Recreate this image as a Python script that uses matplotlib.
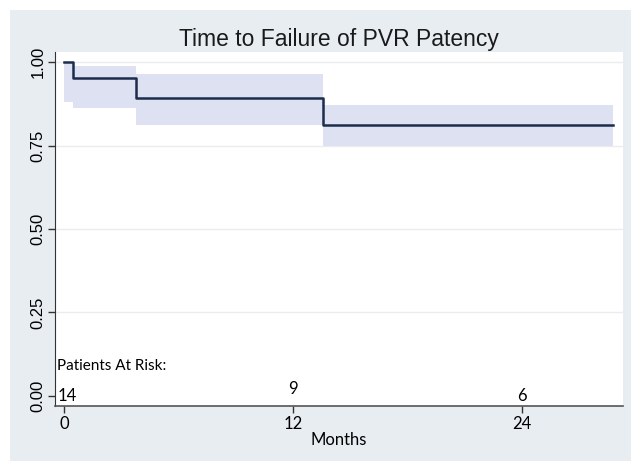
import matplotlib.pyplot as plt
import matplotlib.patches as patches

# KM estimate
times = [0, 0.47, 3.8, 13.6, 28.8]
surv = [1.0, 0.952, 0.893, 0.812, 0.812]
ci_lo = [0.88, 0.862, 0.811, 0.749]
ci_hi = [1.0, 0.988, 0.964, 0.871]

risk_t = [0, 12, 24]
risk_n = ['14', '9', '6']
risk_y = [0.0, 0.02, 0.0]

fig = plt.figure(figsize=(6.31, 4.61), dpi=100)
fig.patch.set_facecolor('white')
bg = patches.Rectangle((10 / 631, 0), 1, 1 - 10 / 461, transform=fig.transFigure,
                       facecolor='#e8edf1', edgecolor='none', zorder=-10)
fig.patches.append(bg)

ax = fig.add_axes([55 / 631, 1 - 406 / 461, 568 / 631, 354 / 461])
ax.set_facecolor('white')

for i in range(len(ci_lo)):
    ax.fill_between([times[i], times[i + 1]], ci_lo[i], ci_hi[i],
                    color='#dde1f1', linewidth=0, zorder=1)

ax.step(times, surv, where='post', color='#1c2c4c', linewidth=1.8, zorder=3)

ax.set_xlim(-0.47, 29.3)
ax.set_ylim(-0.03, 1.03)
ax.set_yticks([0, 0.25, 0.5, 0.75, 1.0])
ax.set_yticklabels(['0.00', '0.25', '0.50', '0.75', '1.00'], rotation=90,
                   va='center', fontsize=12, family='Liberation Sans')
ax.set_xticks([0, 12, 24])
ax.set_xticklabels(['0', '12', '24'], fontsize=12, family='Lato')
for y in [0.25, 0.5, 0.75, 1.0]:
    ax.axhline(y, color='#ececec', linewidth=1, zorder=0)

for s in ['top', 'right']:
    ax.spines[s].set_visible(False)
ax.spines['left'].set_color('#333333')
ax.spines['bottom'].set_color('#555555')
ax.spines['bottom'].set_linewidth(1.2)
ax.tick_params(direction='out', length=5, width=1, color='#333333', pad=2)

ax.set_title('Time to Failure of PVR Patency', fontsize=16.5, family='Liberation Sans',
             color='#1a1a1a', pad=4)
ax.set_xlabel('Months', fontsize=12, family='Lato', labelpad=0)

ax.text(-0.35, 0.09, 'Patients At Risk:', fontsize=11, family='Lato', va='center')
for t, n, yy in zip(risk_t, risk_n, risk_y):
    ha = 'left' if t == 0 else 'center'
    xx = -0.35 if t == 0 else t
    ax.text(xx, yy, n, fontsize=12, family='Lato', ha=ha, va='center')

fig.savefig('out.png', dpi=100, facecolor=fig.get_facecolor())
